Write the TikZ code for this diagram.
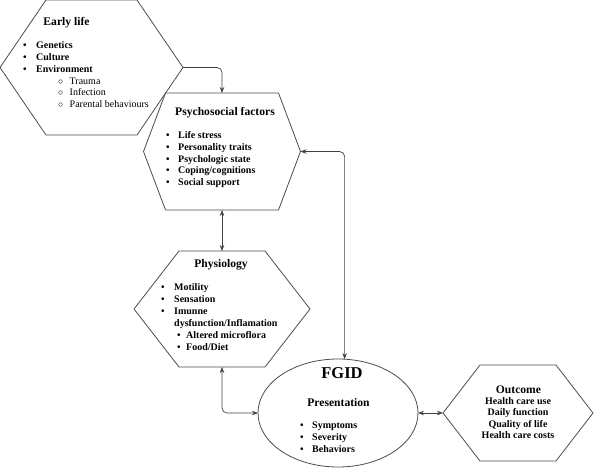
\documentclass[tikz,border=0pt]{standalone}
\usepackage{fontspec}
\setmainfont{Liberation Serif}
\usetikzlibrary{shapes.geometric, arrows.meta, positioning}
\tikzstyle{hexNode} = [rectangle, inner sep=0, outer sep=0, draw=none]
\tikzstyle{hexLine} = [draw=black!70, line width=0.8pt, line join=miter]
\tikzstyle{ellNode} = [ellipse, inner sep=0, outer sep=0, draw=black!70, line width=0.8pt]
\tikzstyle{titleT} = [inner sep=0, font=\fontsize{11.6}{13}\selectfont\bfseries]
\tikzstyle{listT} = [inner sep=0, anchor=north west, align=left, font=\fontsize{10}{11.8}\selectfont\bfseries]
\tikzstyle{arrowD} = [line width=0.7pt, draw=black!75, ->, >={Stealth[length=6pt,width=4.5pt]}, rounded corners=5pt]
\tikzstyle{arrowDD} = [arrowD, <->]
\newcommand{\hexDraw}[2]{\draw [hexLine] (#1.west) -- ([xshift=#2]#1.north west) -- ([xshift=-#2]#1.north east) -- (#1.east) -- ([xshift=-#2]#1.south east) -- ([xshift=#2]#1.south west) -- cycle;}
\newcommand{\bul}[1]{\makebox[#1][l]{\textbullet}}
\begin{document}
\begin{tikzpicture}[x=1pt, y=1pt]
        \useasboundingbox (0,0) rectangle (594,-469);
        \node (el) [hexNode, minimum width=183pt, minimum height=135pt] at (91.5,-67.5) {};
        \node (psy) [hexNode, minimum width=157pt, minimum height=117pt] at (222,-151.5) {};
        \node (phy) [hexNode, minimum width=176pt, minimum height=116pt] at (222,-309) {};
        \node (fgid) [ellNode, minimum width=160pt, minimum height=108pt] at (338,-413) {};
        \node (out) [hexNode, minimum width=150pt, minimum height=96pt] at (518,-413) {};
        \hexDraw{el}{46pt}
        \hexDraw{psy}{22pt}
        \hexDraw{phy}{45pt}
        \hexDraw{out}{37pt}

        % texts
        \node (elT) [titleT] at (66.5,-23) {Early life};
        \node (elL) [listT] at (23,-41.5) {\bul{13pt}Genetics\\ \bul{13pt}Culture\\ \bul{13pt}Environment\\
            \mdseries\hspace*{35pt}\makebox[11.5pt][l]{$\circ$}Trauma\\
            \mdseries\hspace*{35pt}\makebox[11.5pt][l]{$\circ$}Infection\\
            \mdseries\hspace*{35pt}\makebox[11.5pt][l]{$\circ$}Parental behaviours};
        \node (psyT) [titleT] at (225,-113) {Psychosocial factors};
        \node (psyL) [listT, font=\fontsize{10}{11.75}\selectfont\bfseries] at (166,-131.5) {\bul{12pt}Life stress\\ \bul{12pt}Personality traits\\
            \bul{12pt}Psychologic state\\ \bul{12pt}Coping/cognitions\\ \bul{12pt}Social support};
        \node (phyT) [titleT] at (221,-265) {Physiology};
        \node (phyL) [listT, font=\fontsize{10}{11.9}\selectfont\bfseries] at (161,-283.5) {\bul{13pt}Motility\\ \bul{13pt}Sensation\\ \bul{13pt}Imunne\\
            \hspace*{13pt}dysfunction/Inflamation\\
            \hspace*{16pt}\bul{9pt}Altered microflora\\ \hspace*{16pt}\bul{9pt}Food/Diet};
        \node (fgidT) [titleT, font=\fontsize{16.5}{18}\selectfont\bfseries] at (342,-373) {FGID};
        \node (presT) [titleT] at (338.5,-403) {Presentation};
        \node (fgidL) [listT, font=\fontsize{10}{12}\selectfont\bfseries] at (300,-421.5) {\bul{12pt}Symptoms\\ \bul{12pt}Severity\\ \bul{12pt}Behaviors};
        \node (outT) [titleT] at (518.5,-390) {Outcome};
        \node (outL) [listT, anchor=north, align=center, font=\fontsize{10}{11.3}\selectfont\bfseries] at (518,-397.5) {Health care use\\ Daily function\\ Quality of life\\ Health care costs};

        % connectors
        \draw [arrowD] (el.east) -| (psy.north);
        \draw [arrowDD] (psy.south) -- (phy.north);
        \draw [arrowDD] (phy.south) |- (fgid.west);
        \draw [arrowDD] (psy.east) -| (fgid.83);
        \draw [arrowDD] (fgid.east) -- (out.west);
    \end{tikzpicture}
\end{document}
